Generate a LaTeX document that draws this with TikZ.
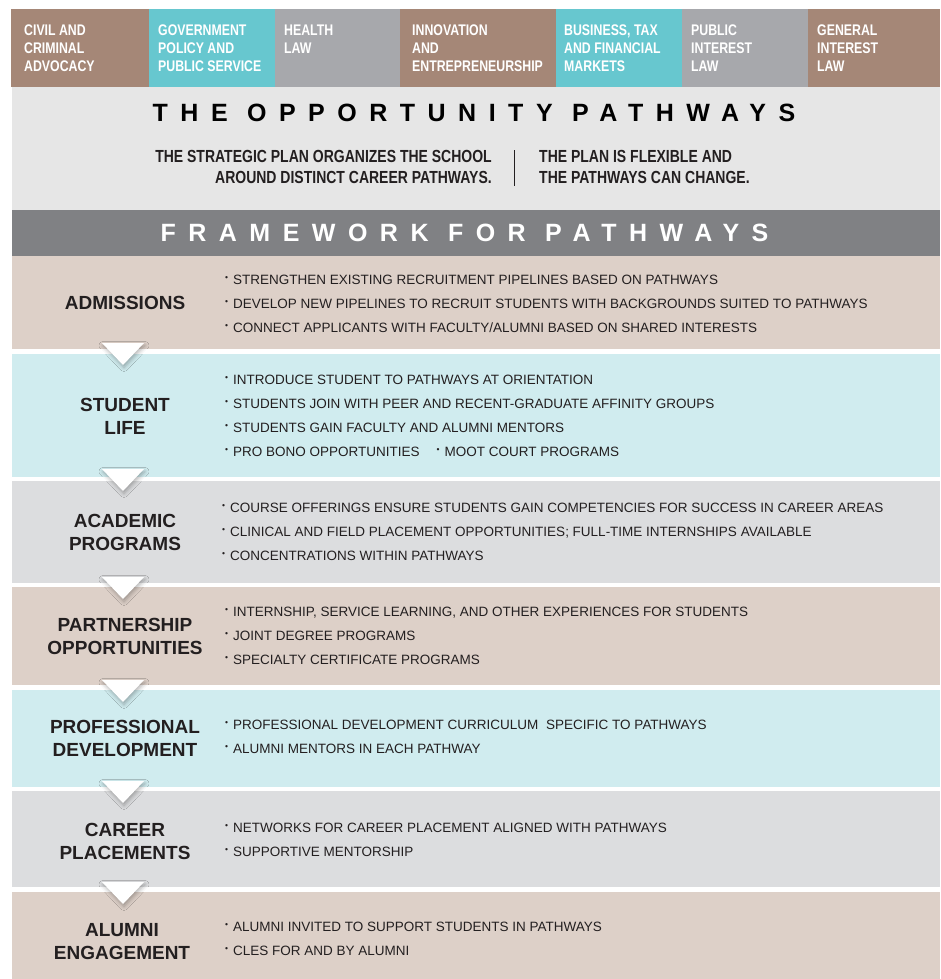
\documentclass[tikz,border=0pt]{standalone}
\usepackage{fontspec}
\setmainfont{Liberation Sans}
\newfontfamily\narrowfont[FakeStretch=0.8]{Liberation Sans}
\newfontfamily\widefont[LetterSpace=50]{Liberation Sans}
\usetikzlibrary{shadows.blur}

\definecolor{pathbrown}{HTML}{A58777}
\definecolor{pathcyan}{HTML}{67C7CF}
\definecolor{pathgray}{HTML}{A7A8AC}
\definecolor{headgray}{HTML}{E6E6E6}
\definecolor{bandgray}{HTML}{808184}
\definecolor{rowbrown}{HTML}{DDD0C8}
\definecolor{rowcyan}{HTML}{D0ECEF}
\definecolor{rowgray}{HTML}{DCDDDF}
\definecolor{ink}{HTML}{231F20}

% raised dot in front of each item
\newcommand\itemdot{\raisebox{4pt}{\fontsize{8.5}{8.5}\selectfont •}\hspace{5pt}}

\begin{document}
\begin{tikzpicture}[x=1pt,y=-1pt,
  tabtext/.style={anchor=north west,inner sep=0pt,align=left,text=white,
    font=\narrowfont\bfseries\fontsize{15.4}{18}\selectfont},
  bigtitle/.style={inner sep=0pt,font=\widefont\bfseries\fontsize{25}{28}\selectfont},
  subtext/.style={inner sep=0pt,text=ink,font=\narrowfont\bfseries\fontsize{17.5}{21}\selectfont},
  rowbox/.style={anchor=north west,inner sep=0pt,minimum width=928pt},
  rowlabel/.style={inner sep=0pt,align=center,text=ink,font=\bfseries\fontsize{19}{23}\selectfont},
  bullets/.style={anchor=north west,inner sep=0pt,align=left,text=ink,font=\fontsize{13.5}{24}\selectfont},
  flowtri/.style={fill=white,blur shadow={shadow xshift=1pt,shadow yshift=-2.5pt,shadow blur radius=4pt,shadow opacity=30}}]
\useasboundingbox (0,0) rectangle (940,979);

% pathway tabs
\fill[pathbrown] (11,9) rectangle (149,87);
\fill[pathcyan] (149,9) rectangle (275,87);
\fill[pathgray] (275,9) rectangle (400,87);
\fill[pathbrown] (400,9) rectangle (556,87);
\fill[pathcyan] (556,9) rectangle (682,87);
\fill[pathgray] (682,9) rectangle (808,87);
\fill[pathbrown] (808,9) rectangle (940,87);
\node[tabtext] (civil) at (24,24.5) {CIVIL AND\\CRIMINAL\\ADVOCACY};
\node[tabtext] (govt) at (158,24.5) {GOVERNMENT\\POLICY AND\\PUBLIC SERVICE};
\node[tabtext] (health) at (284,24.5) {HEALTH\\LAW};
\node[tabtext] (innov) at (412,24.5) {INNOVATION\\AND\\ENTREPRENEURSHIP};
\node[tabtext] (business) at (564,24.5) {BUSINESS, TAX\\AND FINANCIAL\\MARKETS};
\node[tabtext] (public) at (691,24.5) {PUBLIC\\INTEREST\\LAW};
\node[tabtext] (general) at (817,24.5) {GENERAL\\INTEREST\\LAW};

% heading
\fill[headgray] (12,87) rectangle (940,210);
\node[bigtitle] (title) at (474,113) {THE OPPORTUNITY PATHWAYS};
\node[subtext,anchor=north east,align=right] (planleft) at (492,150.5)
  {THE STRATEGIC PLAN ORGANIZES THE SCHOOL\\AROUND DISTINCT CAREER PATHWAYS.};
\node[subtext,anchor=north west,align=left] (planright) at (539,150.5)
  {THE PLAN IS FLEXIBLE AND\\THE PATHWAYS CAN CHANGE.};
\draw[ink,line width=1pt] (514,150) -- (514,186);

% framework band
\fill[bandgray] (12,210) rectangle (940,256);
\node[bigtitle,text=white] (frame) at (464.5,233) {FRAMEWORK FOR PATHWAYS};

% rows
\node[rowbox,fill=rowbrown,minimum height=93pt] (admitrow) at (12,256) {};
\node[rowbox,fill=rowcyan,minimum height=123pt] (liferow) at (12,354) {};
\node[rowbox,fill=rowgray,minimum height=102pt] (acadrow) at (12,481) {};
\node[rowbox,fill=rowbrown,minimum height=98pt] (partrow) at (12,587) {};
\node[rowbox,fill=rowcyan,minimum height=97pt] (profrow) at (12,690) {};
\node[rowbox,fill=rowgray,minimum height=96pt] (careerrow) at (12,791) {};
\node[rowbox,fill=rowbrown,minimum height=87pt] (alumrow) at (12,892) {};

% step markers
\foreach \ty in {343,469,577,680,781,882}
\fill[flowtri] (102,\ty) -- (144,\ty) -- (123,\ty+22) -- cycle;

% row labels
\node[rowlabel] (admitlab) at (125,303) {ADMISSIONS};
\node[rowlabel] (lifelab) at (125,416.5) {STUDENT\\LIFE};
\node[rowlabel] (acadlab) at (125,532) {ACADEMIC\\PROGRAMS};
\node[rowlabel] (partlab) at (125,636.5) {PARTNERSHIP\\OPPORTUNITIES};
\node[rowlabel] (proflab) at (125,738.5) {PROFESSIONAL\\DEVELOPMENT};
\node[rowlabel] (careerlab) at (125,841.5) {CAREER\\PLACEMENTS};
\node[rowlabel] (alumlab) at (122,941.5) {ALUMNI\\ENGAGEMENT};

% bullet lists
\node[bullets] (admitlist) at (225,275.2) {%
  \itemdot STRENGTHEN EXISTING RECRUITMENT PIPELINES BASED ON PATHWAYS\\
  \itemdot DEVELOP NEW PIPELINES TO RECRUIT STUDENTS WITH BACKGROUNDS SUITED TO PATHWAYS\\
  \itemdot CONNECT APPLICANTS WITH FACULTY/ALUMNI BASED ON SHARED INTERESTS};
\node[bullets] (lifelist) at (225,375.2) {%
  \itemdot INTRODUCE STUDENT TO PATHWAYS AT ORIENTATION\\
  \itemdot STUDENTS JOIN WITH PEER AND RECENT-GRADUATE AFFINITY GROUPS\\
  \itemdot STUDENTS GAIN FACULTY AND ALUMNI MENTORS\\
  \itemdot PRO BONO OPPORTUNITIES\hspace{17pt}\itemdot MOOT COURT PROGRAMS};
\node[bullets] (acadlist) at (222,503.2) {%
  \itemdot COURSE OFFERINGS ENSURE STUDENTS GAIN COMPETENCIES FOR SUCCESS IN CAREER AREAS\\
  \itemdot CLINICAL AND FIELD PLACEMENT OPPORTUNITIES; FULL-TIME INTERNSHIPS AVAILABLE\\
  \itemdot CONCENTRATIONS WITHIN PATHWAYS};
\node[bullets] (partlist) at (225,607.2) {%
  \itemdot INTERNSHIP, SERVICE LEARNING, AND OTHER EXPERIENCES FOR STUDENTS\\
  \itemdot JOINT DEGREE PROGRAMS\\
  \itemdot SPECIALTY CERTIFICATE PROGRAMS};
\node[bullets] (proflist) at (225,720.2) {%
  \itemdot PROFESSIONAL DEVELOPMENT CURRICULUM\hspace{4pt} SPECIFIC TO PATHWAYS\\
  \itemdot ALUMNI MENTORS IN EACH PATHWAY};
\node[bullets] (careerlist) at (225,823.2) {%
  \itemdot NETWORKS FOR CAREER PLACEMENT ALIGNED WITH PATHWAYS\\
  \itemdot SUPPORTIVE MENTORSHIP};
\node[bullets] (alumlist) at (225,922.2) {%
  \itemdot ALUMNI INVITED TO SUPPORT STUDENTS IN PATHWAYS\\
  \itemdot CLES FOR AND BY ALUMNI};
\end{tikzpicture}
\end{document}
